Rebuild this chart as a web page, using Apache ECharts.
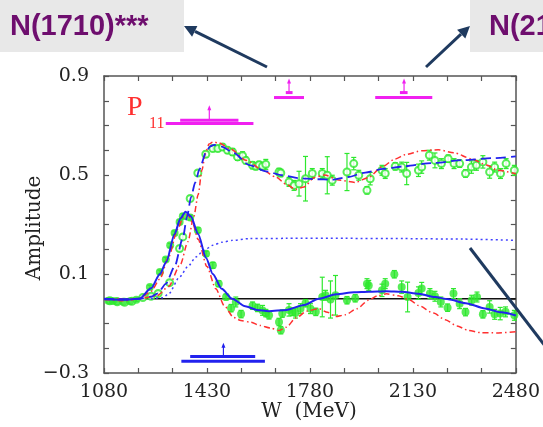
<!DOCTYPE html>
<html><head><meta charset="utf-8">
<script src="https://cdn.jsdelivr.net/npm/echarts@6/dist/echarts.min.js"></script>
<style>html,body{margin:0;padding:0;background:#fff}#c{width:543px;height:427px}</style>
</head><body><div id="c"></div>
<script>
// ---- axis / tick definitions ----
const W_MIN = 1080, W_MAX = 2480;
const xTickLabels = [1080, 1430, 1780, 2130, 2480];
const yTickLabels = [-0.3, 0.1, 0.5, 0.9];

// ---- fit curves [W (MeV), amplitude] ----
const realFitBlue = [[1080,-0.002],[1150,-0.004],[1200,0.0],[1240,0.042],[1270,0.100],[1292,0.150],[1320,0.262],[1340,0.325],[1357,0.352],[1375,0.333],[1400,0.262],[1427,0.165],[1450,0.100],[1480,0.040],[1516,0.0],[1560,-0.030],[1600,-0.045],[1640,-0.050],[1700,-0.045],[1760,-0.025],[1810,0.0],[1870,0.018],[1930,0.026],[1980,0.028],[2040,0.030],[2092,0.028],[2150,0.020],[2206,0.007],[2250,-0.002],[2310,-0.018],[2375,-0.039],[2430,-0.055],[2480,-0.068]];
const realFitRed = [[1080,-0.003],[1150,-0.008],[1200,0.0],[1240,0.030],[1270,0.080],[1300,0.170],[1330,0.280],[1350,0.330],[1365,0.340],[1380,0.310],[1400,0.240],[1430,0.130],[1460,0.040],[1490,-0.030],[1520,-0.075],[1545,-0.088],[1580,-0.095],[1610,-0.108],[1645,-0.118],[1675,-0.128],[1700,-0.115],[1732,-0.078],[1770,-0.050],[1810,-0.040],[1840,-0.055],[1867,-0.072],[1900,-0.065],[1940,-0.040],[1980,-0.005],[2010,0.012],[2040,0.020],[2080,0.012],[2120,-0.005],[2149,-0.027],[2200,-0.058],[2240,-0.085],[2280,-0.110],[2318,-0.128],[2360,-0.137],[2420,-0.138],[2480,-0.133]];
const imagFitBlue = [[1080,0.0],[1150,-0.002],[1200,0.0],[1240,0.008],[1263,0.022],[1290,0.060],[1320,0.130],[1348,0.245],[1362,0.330],[1376,0.411],[1390,0.470],[1405,0.525],[1427,0.592],[1440,0.615],[1455,0.622],[1480,0.615],[1520,0.590],[1574,0.540],[1630,0.515],[1686,0.499],[1743,0.487],[1800,0.483],[1854,0.481],[1910,0.492],[1968,0.510],[2030,0.525],[2100,0.535],[2193,0.548],[2300,0.560],[2400,0.568],[2480,0.575]];
const imagFitRed = [[1080,0.0],[1200,0.0],[1260,0.012],[1300,0.050],[1340,0.140],[1365,0.230],[1385,0.330],[1400,0.420],[1413,0.520],[1425,0.590],[1437,0.625],[1450,0.633],[1470,0.630],[1510,0.605],[1562,0.560],[1620,0.520],[1664,0.492],[1700,0.462],[1731,0.442],[1760,0.452],[1795,0.490],[1830,0.500],[1878,0.480],[1934,0.470],[1980,0.490],[2024,0.532],[2070,0.565],[2104,0.582],[2160,0.598],[2216,0.602],[2270,0.590],[2328,0.566],[2380,0.540],[2419,0.519],[2480,0.505]];
const unitarityDotted = [[1240,0.0],[1280,0.004],[1300,0.020],[1337,0.088],[1365,0.130],[1393,0.169],[1420,0.196],[1450,0.216],[1480,0.228],[1517,0.236],[1574,0.243],[1700,0.244],[1900,0.244],[2100,0.243],[2300,0.241],[2480,0.236]];

// ---- data points [W, amplitude, error] ----
const imagData = [[1100,-0.008,0.006],[1125,-0.012,0.006],[1150,-0.014,0.006],[1175,-0.010,0.006],[1212,0.005,0.006],[1240,0.010,0.006],[1264,0.021,0.008],[1303,0.065,0.008],[1337,0.203,0.010],[1348,0.250,0.010],[1373,0.405,0.010],[1399,0.508,0.010],[1426,0.584,0.012],[1450,0.607,0.012],[1467,0.607,0.012],[1483,0.613,0.012],[1500,0.600,0.012],[1517,0.593,0.014],[1534,0.573,0.014],[1551,0.578,0.016],[1562,0.559,0.014],[1585,0.539,0.014],[1596,0.535,0.014],[1607,0.541,0.014],[1619,0.535,0.016],[1630,0.543,0.020],[1675,0.512,0.015],[1681,0.508,0.015],[1709,0.472,0.018],[1726,0.458,0.020],[1743,0.465,0.050],[1765,0.485,0.090],[1788,0.506,0.020],[1822,0.506,0.020],[1839,0.499,0.075],[1856,0.479,0.020],[1906,0.512,0.075],[1929,0.546,0.025],[1946,0.499,0.020],[1974,0.438,0.015],[1985,0.485,0.025],[2025,0.519,0.020],[2036,0.506,0.020],[2070,0.535,0.015],[2092,0.532,0.020],[2109,0.506,0.045],[2149,0.519,0.025],[2160,0.532,0.025],[2186,0.580,0.020],[2205,0.559,0.030],[2227,0.546,0.020],[2250,0.566,0.015],[2270,0.546,0.020],[2289,0.546,0.015],[2309,0.506,0.015],[2329,0.532,0.025],[2346,0.539,0.020],[2368,0.553,0.025],[2391,0.512,0.025],[2408,0.532,0.020],[2428,0.506,0.020],[2447,0.546,0.020],[2475,0.519,0.020]];
const realData = [[1095,-0.008,0.006],[1110,-0.009,0.006],[1123,-0.010,0.006],[1145,-0.012,0.006],[1168,-0.010,0.006],[1190,-0.004,0.006],[1236,0.047,0.008],[1270,0.108,0.008],[1290,0.159,0.008],[1305,0.216,0.008],[1320,0.266,0.008],[1337,0.310,0.008],[1348,0.333,0.010],[1373,0.328,0.010],[1399,0.277,0.010],[1427,0.182,0.010],[1450,0.135,0.012],[1470,0.061,0.012],[1495,0.007,0.012],[1512,-0.038,0.015],[1528,-0.013,0.020],[1546,-0.062,0.015],[1585,-0.028,0.015],[1602,-0.037,0.015],[1619,-0.047,0.020],[1630,-0.058,0.015],[1641,-0.067,0.015],[1675,-0.094,0.015],[1681,-0.127,0.015],[1686,-0.060,0.015],[1709,-0.045,0.025],[1720,-0.053,0.015],[1731,-0.058,0.020],[1748,-0.040,0.020],[1765,-0.018,0.015],[1782,-0.040,0.020],[1800,-0.053,0.015],[1822,0.007,0.080],[1833,0.014,0.020],[1850,-0.003,0.075],[1867,0.014,0.080],[1906,-0.006,0.015],[1934,0.002,0.015],[1974,0.061,0.020],[1980,0.054,0.020],[2025,0.034,0.025],[2036,0.061,0.020],[2067,0.099,0.015],[2092,0.047,0.025],[2112,0.007,0.060],[2149,0.023,0.025],[2160,0.041,0.025],[2188,0.021,0.020],[2205,0.010,0.020],[2225,-0.013,0.020],[2248,-0.036,0.015],[2268,0.021,0.020],[2289,-0.020,0.020],[2309,-0.054,0.015],[2330,-0.006,0.020],[2348,0.007,0.020],[2368,-0.063,0.015],[2391,-0.033,0.025],[2408,-0.063,0.020],[2427,-0.060,0.025],[2445,-0.053,0.020],[2475,-0.067,0.020]];

// ---- pole / resonance markers: bars [Wlo, Whi, amplitude], arrows [W, from, to] ----
const magentaBars = [[1339,1537,0.721],[1290,1588,0.708],[1658,1760,0.813],[1698,1721,0.833],[2002,2196,0.813],[2086,2112,0.833]];
const magentaArrows = [[1438,0.721,0.782],[1709,0.833,0.890],[2100,0.833,0.890]];
const blueBars = [[1373,1594,-0.233],[1343,1627,-0.253]];
const blueArrows = [[1486,-0.233,-0.178]];

// ---- build ----
const off = w => w - W_MIN;
const toXY = arr => arr.map(p => [off(p[0]), p[1]]);
const isLabelX = v => xTickLabels.some(t => Math.abs(off(t) - v) < 1e-6);
const isLabelY = v => yTickLabels.some(t => Math.abs(t - v) < 1e-6);

const chart = echarts.init(document.getElementById('c'), null, {renderer:'canvas'});
const serif = '"DejaVu Serif", "Liberation Serif", serif';
const frame = {onZero:false, lineStyle:{color:'#555', width:1.5}};
const tick = {inside:true, length:5, lineStyle:{color:'#555', width:1.2}};

function barsRender(color){
  return function(params, api){
    const p1 = api.coord([api.value(0), api.value(2)]);
    const p2 = api.coord([api.value(1), api.value(2)]);
    return {type:'line', shape:{x1:p1[0],y1:p1[1],x2:p2[0],y2:p2[1]}, style:{stroke:color, lineWidth:3}};
  };
}
function arrowRender(color){
  return function(params, api){
    const a = api.coord([api.value(0), api.value(1)]);
    const b = api.coord([api.value(0), api.value(2)]);
    return {type:'group', children:[
      {type:'line', shape:{x1:a[0],y1:a[1],x2:b[0],y2:b[1]+3}, style:{stroke:color, lineWidth:1.2}},
      {type:'polygon', shape:{points:[[b[0],b[1]],[b[0]-2,b[1]+5],[b[0]+2,b[1]+5]]}, style:{fill:color}}
    ]};
  };
}
function errRender(color){
  return function(params, api){
    const x = api.value(0), y = api.value(1), e = api.value(2);
    const t = api.coord([x, y+e]), b = api.coord([x, y-e]);
    return {type:'group', children:[
      {type:'line', shape:{x1:t[0],y1:t[1],x2:b[0],y2:b[1]}, style:{stroke:color, lineWidth:1.2}},
      {type:'line', shape:{x1:t[0]-2.5,y1:t[1],x2:t[0]+2.5,y2:t[1]}, style:{stroke:color, lineWidth:1.2}},
      {type:'line', shape:{x1:b[0]-2.5,y1:b[1],x2:b[0]+2.5,y2:b[1]}, style:{stroke:color, lineWidth:1.2}}
    ]};
  };
}
const green = '#2ee82e';
const blue = '#2222ee';
const red = '#ff3030';
const magenta = '#f020f0';

const lineS = (data, color, type, width) => ({type:'line', data: toXY(data), smooth:0.25, smoothMonotone:'x', symbol:'none',
  lineStyle:{color, type, width}, z:5, silent:true, animation:false});

const option = {
  animation:false,
  grid:{left:104, right:25, top:76, bottom:54},
  xAxis:[
    {type:'value', min:0, max:W_MAX-W_MIN, interval:(W_MAX-W_MIN)/12, position:'bottom',
     axisLine:frame, axisTick:tick, splitLine:{show:false},
     axisLabel:{margin:10, color:'#222', fontFamily:serif, fontSize:19,
       formatter: v => isLabelX(v) ? String(Math.round(v + W_MIN)) : ''}},
    {type:'value', min:0, max:W_MAX-W_MIN, interval:(W_MAX-W_MIN)/12, position:'top',
     axisLine:frame, axisTick:tick, splitLine:{show:false}, axisLabel:{show:false}}
  ],
  yAxis:[
    {type:'value', min:-0.3, max:0.9, interval:0.1, position:'left',
     axisLine:frame, axisTick:tick, splitLine:{show:false},
     axisLabel:{margin:15, color:'#222', fontFamily:serif, fontSize:19,
       formatter: v => isLabelY(v) ? v.toFixed(1).replace('-', '\u2212') : ''}},
    {type:'value', min:-0.3, max:0.9, interval:0.1, position:'right',
     axisLine:frame, axisTick:tick, splitLine:{show:false}, axisLabel:{show:false}}
  ],
  series:[
    {type:'line', data:[[0,0],[W_MAX-W_MIN,0]], symbol:'none', lineStyle:{color:'#111', width:1.5}, z:3, silent:true},
    {type:'custom', renderItem:errRender(green), data:imagData.map(p=>[off(p[0]),p[1],p[2]]), z:4, silent:true},
    {type:'custom', renderItem:errRender(green), data:realData.map(p=>[off(p[0]),p[1],p[2]]), z:4, silent:true},
    {type:'scatter', data:toXY(imagData), symbol:'emptyCircle', symbolSize:7,
     itemStyle:{color:green, borderColor:green, borderWidth:1.5}, z:4, silent:true},
    {type:'scatter', data:toXY(realData), symbol:'circle', symbolSize:8,
     itemStyle:{color:green}, z:4, silent:true},
    lineS(unitarityDotted, '#4040ff', [2,3], 1.5),
    lineS(imagFitRed, red, [6,3,1.5,3], 1.5),
    lineS(realFitRed, red, [6,3,1.5,3], 1.5),
    lineS(imagFitBlue, blue, [10,5], 1.8),
    lineS(realFitBlue, blue, 'solid', 2),
    {type:'custom', renderItem:barsRender(magenta), data:magentaBars.map(b=>[off(b[0]),off(b[1]),b[2]]), z:6, silent:true},
    {type:'custom', renderItem:arrowRender(magenta), data:magentaArrows.map(a=>[off(a[0]),a[1],a[2]]), z:6, silent:true},
    {type:'custom', renderItem:barsRender(blue), data:blueBars.map(b=>[off(b[0]),off(b[1]),b[2]]), z:6, silent:true},
    {type:'custom', renderItem:arrowRender(blue), data:blueArrows.map(a=>[off(a[0]),a[1],a[2]]), z:6, silent:true}
  ],
  graphic:[
    {type:'text', x:35, y:228, rotation:Math.PI/2, z:10,
     style:{text:'Amplitude', font:'20px '+serif, fill:'#222', align:'center', verticalAlign:'middle', textAlign:'center', textVerticalAlign:'middle'}},
    {type:'text', x:309, y:412, z:10,
     style:{text:'W  (MeV)', font:'20px '+serif, fill:'#222', align:'center', verticalAlign:'middle', textAlign:'center', textVerticalAlign:'middle'}},
    {type:'text', x:127, y:108, z:10,
     style:{text:'P', font:'28px "Liberation Serif", serif', fill:red, verticalAlign:'middle', textVerticalAlign:'middle'}},
    {type:'text', x:149, y:124, z:10,
     style:{text:'11', font:'16px "Liberation Serif", serif', fill:red, verticalAlign:'middle', textVerticalAlign:'middle'}},
    {type:'rect', shape:{x:0, y:0, width:184, height:52}, style:{fill:'#e8e8e8'}, z:20},
    {type:'text', x:10, y:27, z:21,
     style:{text:'N(1710)***', font:'bold 29px "Liberation Sans", Arial, sans-serif', fill:'#6e0e6e', verticalAlign:'middle', textVerticalAlign:'middle'}},
    {type:'rect', shape:{x:470, y:0, width:80, height:52}, style:{fill:'#e8e8e8'}, z:20},
    {type:'text', x:489, y:27, z:21,
     style:{text:'N(2100)*', font:'bold 29px "Liberation Sans", Arial, sans-serif', fill:'#6e0e6e', verticalAlign:'middle', textVerticalAlign:'middle'}},
    {type:'line', shape:{x1:267, y1:67, x2:195, y2:31.3}, style:{stroke:'#1f3a5f', lineWidth:3}, z:22},
    {type:'polygon', shape:{points:[[184,26],[197.4,25.9],[192.1,36.7]]}, style:{fill:'#1f3a5f'}, z:22},
    {type:'line', shape:{x1:426, y1:67, x2:461, y2:34.2}, style:{stroke:'#1f3a5f', lineWidth:3}, z:22},
    {type:'polygon', shape:{points:[[470,26],[465.3,38.6],[457.1,29.8]]}, style:{fill:'#1f3a5f'}, z:22},
    {type:'line', shape:{x1:470, y1:248, x2:562, y2:368}, style:{stroke:'#1f3a5f', lineWidth:3}, z:22}
  ]
};
chart.setOption(option);
</script></body></html>
